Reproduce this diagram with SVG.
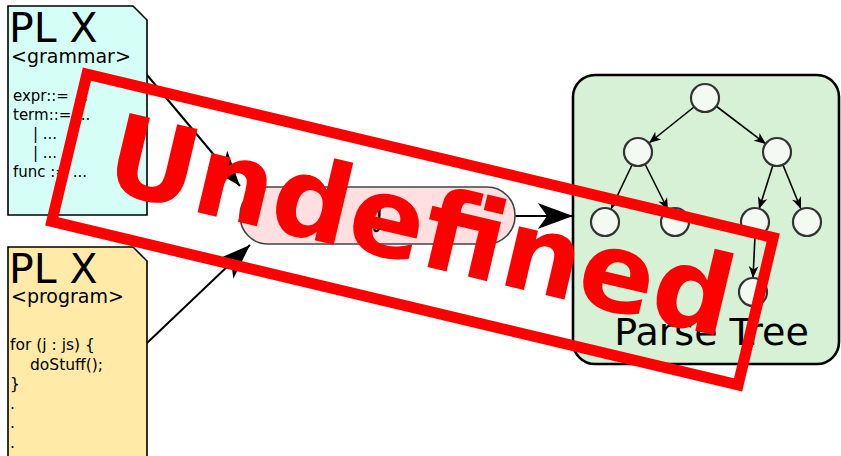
<svg xmlns="http://www.w3.org/2000/svg" width="841" height="456" viewBox="0 0 841 456">
<style>
  text { font-family: "DejaVu Sans", "Liberation Sans", sans-serif; fill: #000; }
  .doc { stroke: #000; stroke-width: 1.6; }
  .big { font-size: 41px; }
  .tag { font-size: 19px; }
  .code { font-size: 15px; }
  .prog { font-size: 15.5px; }
  .conn { fill: none; stroke: #000; stroke-width: 2; }
  .tedge { fill: none; stroke: #000; stroke-width: 1.6; }
  .tn { fill: #f2faf2; stroke: #333; stroke-width: 2.2; }
</style>
<defs>
  <marker id="bigArrow" markerUnits="userSpaceOnUse" markerWidth="40" markerHeight="30" viewBox="-32 -12 34 24" refX="0" refY="0" orient="auto">
    <path d="M0,0 L-30,-11 L-22,0 L-30,11 Z" fill="#000"/>
  </marker>
  <marker id="smallArrow" markerUnits="userSpaceOnUse" markerWidth="14" markerHeight="12" viewBox="-12 -5 13 10" refX="0" refY="0" orient="auto">
    <path d="M0,0 L-11,-4.5 L-8,0 L-11,4.5 Z" fill="#000"/>
  </marker>
</defs>

<g id="connectors">
  <path class="conn" d="M147,75 L240,186" marker-end="url(#bigArrow)"/>
  <path class="conn" d="M147,343 L250,245" marker-end="url(#bigArrow)"/>
  <path class="conn" d="M515,216 L573,216" marker-end="url(#bigArrow)"/>
</g>

<g id="grammar">
  <path class="doc" fill="#d5fff6" d="M8,6 L133,6 L147,20 L147,215 L8,215 Z"/>
  <text class="big" x="9" y="42">PL X</text>
  <text class="tag" x="11" y="63">&lt;grammar&gt;</text>
  <text class="code" x="13" y="101">expr::= ...</text>
  <text class="code" x="13" y="120">term::= ...</text>
  <text class="code" x="33" y="139">| ...</text>
  <text class="code" x="33" y="158">| ...</text>
  <text class="code" x="13" y="177">func := ...</text>
</g>

<g id="program">
  <path class="doc" fill="#ffeaa8" d="M8,247 L133,247 L147,261 L147,460 L8,460 Z"/>
  <text class="big" x="9" y="283">PL X</text>
  <text class="tag" x="11" y="303">&lt;program&gt;</text>
  <text class="prog" x="10" y="350">for (j : js) {</text>
  <text class="prog" x="30" y="369.5">doStuff();</text>
  <text class="prog" x="10" y="389">}</text>
  <text class="prog" x="10" y="408.5">.</text>
  <text class="prog" x="10" y="428">.</text>
  <text class="prog" x="10" y="447.5">.</text>
</g>

<g id="parser">
  <rect x="240" y="187" width="275" height="57" rx="28" fill="#ffdfdf" stroke="#444" stroke-width="1.6"/>
  <text x="379" y="226" font-size="30" text-anchor="middle">∫</text>
</g>

<g id="parse-tree">
  <rect x="573" y="75" width="266" height="289" rx="22" fill="#d6f1d6" stroke="#000" stroke-width="2.6"/>
  <g id="tree-edges">
    <path class="tedge" d="M694,107 L649,143" marker-end="url(#smallArrow)"/>
    <path class="tedge" d="M716,106 L766,144" marker-end="url(#smallArrow)"/>
    <path class="tedge" d="M632,165 L611,209" marker-end="url(#smallArrow)"/>
    <path class="tedge" d="M645,164 L668,210" marker-end="url(#smallArrow)"/>
    <path class="tedge" d="M773,165 L759,209" marker-end="url(#smallArrow)"/>
    <path class="tedge" d="M783,165 L801,209" marker-end="url(#smallArrow)"/>
    <path class="tedge" d="M755,236 L753,278" marker-end="url(#smallArrow)"/>
  </g>
  <circle class="tn" cx="705" cy="98" r="14"/>
  <circle class="tn" cx="638" cy="152" r="14"/>
  <circle class="tn" cx="777" cy="152" r="14"/>
  <circle class="tn" cx="605" cy="222" r="14"/>
  <circle class="tn" cx="675" cy="222" r="14"/>
  <circle class="tn" cx="755" cy="222" r="14"/>
  <circle class="tn" cx="807" cy="222" r="14"/>
  <circle class="tn" cx="753" cy="292" r="14"/>
  <text x="711.5" y="345" font-size="38" text-anchor="middle">Parse Tree</text>
</g>

<g id="stamp" transform="translate(412.5,229.5) rotate(13.4)">
  <rect x="-352.75" y="-75.75" width="705.5" height="151.5" fill="none" stroke="#ff0000" stroke-width="11"/>
  <text x="7.5" y="33" font-size="111" font-weight="bold" text-anchor="middle" style="fill:#ff0000">Undefined</text>
</g>
</svg>
